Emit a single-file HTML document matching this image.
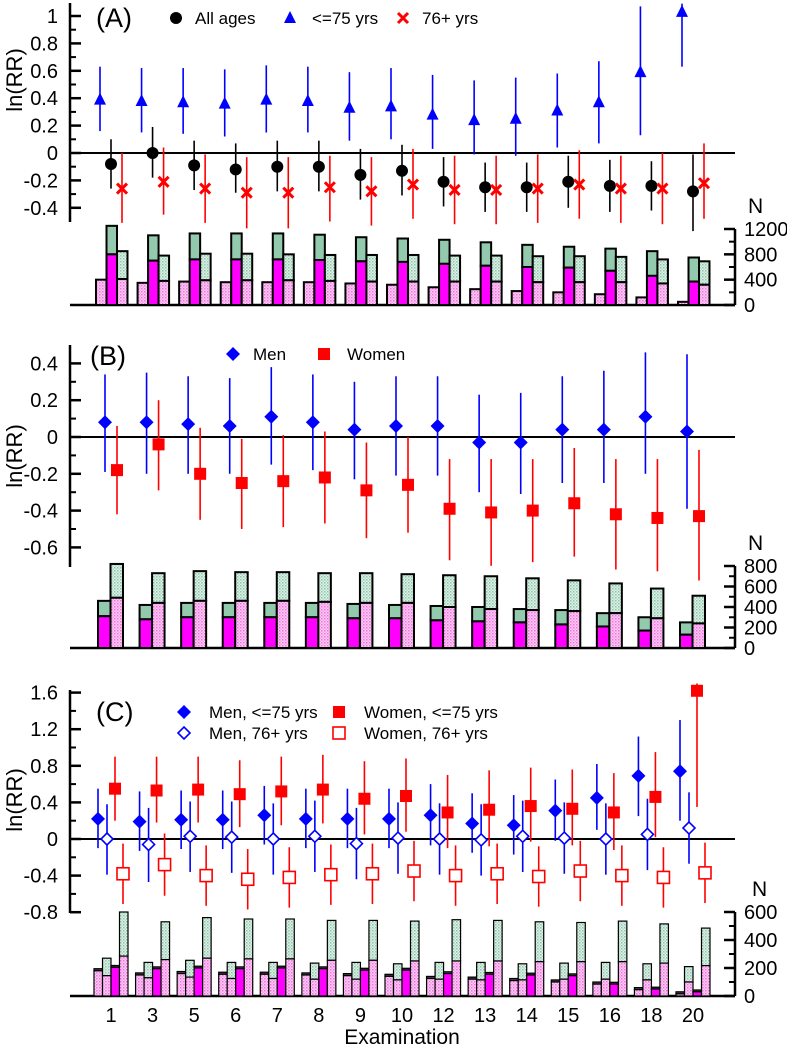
<!DOCTYPE html>
<html><head><meta charset="utf-8">
<style>
html,body{margin:0;padding:0;background:#fff;}
svg{display:block;font-family:"Liberation Sans",Arial,sans-serif;}
</style></head>
<body>
<svg id="chart" width="787" height="1050" viewBox="0 0 787 1050">
<defs>
<pattern id="pinkHatch" width="3" height="3" patternUnits="userSpaceOnUse"><rect width="3" height="3" fill="#fbd0f4"/><rect width="1.5" height="1.5" fill="#f070e0"/><rect x="1.5" y="1.5" width="1.5" height="1.5" fill="#f8a0ec"/></pattern>
<pattern id="greenHatch" width="3" height="3" patternUnits="userSpaceOnUse"><rect width="3" height="3" fill="#e2f2ea"/><rect width="1.5" height="1.5" fill="#8cc4a8"/><rect x="1.5" y="1.5" width="1.5" height="1.5" fill="#b4dcc8"/></pattern>
</defs>
</svg>
<script>
// shared categories
const exams = ["1","3","5","6","7","8","9","10","12","13","14","15","16","18","20"];
// Panel A
const aAll = [-0.08,0.00,-0.09,-0.12,-0.10,-0.10,-0.16,-0.13,-0.21,-0.25,-0.25,-0.21,-0.24,-0.24,-0.28];
const aAllLo = [-0.26,-0.18,-0.27,-0.29,-0.28,-0.28,-0.34,-0.31,-0.39,-0.43,-0.43,-0.40,-0.43,-0.42,-0.57];
const aAllHi = [0.10,0.19,0.09,0.07,0.09,0.09,0.03,0.06,-0.03,-0.07,-0.07,-0.02,-0.05,-0.06,-0.01];
const aYoung = [0.39,0.38,0.37,0.36,0.39,0.38,0.33,0.34,0.28,0.24,0.25,0.31,0.37,0.59,1.03];
const aYoungLo = [0.16,0.15,0.14,0.12,0.15,0.15,0.09,0.10,0.03,-0.01,-0.02,0.04,0.07,0.13,0.63];
const aYoungHi = [0.63,0.62,0.62,0.61,0.64,0.63,0.59,0.62,0.57,0.53,0.55,0.58,0.67,1.07,1.09];
const aOld = [-0.26,-0.21,-0.26,-0.29,-0.29,-0.25,-0.28,-0.23,-0.27,-0.27,-0.26,-0.23,-0.26,-0.26,-0.22];
const aOldLo = [-0.51,-0.45,-0.51,-0.55,-0.55,-0.50,-0.53,-0.48,-0.52,-0.52,-0.51,-0.48,-0.51,-0.52,-0.48];
const aOldHi = [0.00,0.04,-0.01,-0.03,-0.03,-0.02,-0.03,0.03,-0.02,-0.02,-0.01,0.02,-0.02,0.00,0.07];
const aN1 = [400,350,370,360,360,360,340,320,280,250,220,200,170,120,50];
const aN2 = [800,700,720,720,720,710,690,680,650,620,600,590,540,460,370];
const aN2tot = [1250,1100,1130,1130,1130,1110,1070,1050,1030,990,950,920,890,850,750];
const aN3 = [410,380,390,390,390,380,370,370,370,370,360,360,360,340,320];
const aN3tot = [850,780,810,810,800,790,790,790,780,780,770,770,760,720,690];
// Panel B
const bMen = [0.08,0.08,0.07,0.06,0.11,0.08,0.04,0.06,0.06,-0.03,-0.03,0.04,0.04,0.11,0.03];
const bMenLo = [-0.19,-0.20,-0.20,-0.20,-0.15,-0.18,-0.23,-0.21,-0.21,-0.30,-0.31,-0.25,-0.25,-0.20,-0.39];
const bMenHi = [0.34,0.35,0.33,0.32,0.38,0.34,0.30,0.33,0.33,0.23,0.24,0.33,0.36,0.46,0.45];
const bWomen = [-0.18,-0.04,-0.20,-0.25,-0.24,-0.22,-0.29,-0.26,-0.39,-0.41,-0.40,-0.36,-0.42,-0.44,-0.43];
const bWomenLo = [-0.42,-0.29,-0.45,-0.50,-0.49,-0.47,-0.55,-0.52,-0.67,-0.70,-0.68,-0.65,-0.72,-0.73,-0.78];
const bWomenHi = [0.06,0.20,0.05,-0.01,0.01,0.03,-0.03,0.00,-0.12,-0.12,-0.12,-0.06,-0.12,-0.12,-0.07];
const bN1 = [310,280,300,300,300,300,290,290,270,260,250,230,210,170,130];
const bN1tot = [460,420,440,440,440,440,430,420,410,400,380,370,340,300,250];
const bN2 = [490,440,460,460,460,450,440,440,400,380,370,360,340,290,240];
const bN2tot = [820,730,750,740,740,730,730,720,710,700,680,660,630,580,510];
// Panel C
const cMenY = [0.22,0.19,0.21,0.21,0.26,0.22,0.22,0.22,0.26,0.17,0.15,0.31,0.45,0.69,0.74];
const cMenYLo = [-0.10,-0.13,-0.11,-0.11,-0.06,-0.10,-0.10,-0.10,-0.07,-0.15,-0.17,-0.02,0.10,0.25,0.20];
const cMenYHi = [0.55,0.52,0.53,0.53,0.58,0.55,0.55,0.55,0.60,0.50,0.48,0.65,0.82,1.12,1.30];
const cMenO = [0.00,-0.06,0.03,0.02,0.00,0.03,-0.05,0.01,0.00,-0.01,0.03,0.01,0.00,0.05,0.12];
const cMenOLo = [-0.39,-0.47,-0.36,-0.37,-0.39,-0.36,-0.44,-0.38,-0.39,-0.40,-0.36,-0.38,-0.39,-0.34,-0.27];
const cMenOHi = [0.38,0.34,0.41,0.41,0.39,0.42,0.34,0.40,0.39,0.38,0.42,0.40,0.39,0.44,0.51];
const cWomY = [0.55,0.53,0.54,0.49,0.52,0.54,0.44,0.47,0.29,0.32,0.36,0.33,0.29,0.46,1.62];
const cWomYLo = [0.20,0.18,0.18,0.13,0.15,0.17,0.05,0.08,-0.10,-0.08,-0.03,-0.07,-0.12,0.02,0.35];
const cWomYHi = [0.90,0.90,0.90,0.86,0.90,0.92,0.85,0.88,0.70,0.75,0.78,0.76,0.72,0.95,1.70];
const cWomO = [-0.38,-0.28,-0.40,-0.44,-0.42,-0.39,-0.38,-0.35,-0.40,-0.38,-0.41,-0.35,-0.40,-0.42,-0.37];
const cWomOLo = [-0.71,-0.62,-0.73,-0.77,-0.75,-0.72,-0.71,-0.68,-0.73,-0.71,-0.74,-0.68,-0.73,-0.75,-0.70];
const cWomOHi = [-0.05,0.06,-0.07,-0.11,-0.09,-0.06,-0.05,-0.02,-0.07,-0.05,-0.08,-0.02,-0.07,-0.09,-0.04];
const cN1 = [180,150,160,155,155,150,145,140,125,120,110,100,85,45,15];
const cN1tot = [195,165,175,170,170,165,160,155,140,135,125,115,100,60,30];
const cN2 = [145,130,135,125,125,120,120,115,120,115,115,120,120,115,100];
const cN2tot = [270,240,255,240,240,235,240,230,240,240,230,235,240,230,210];
const cN3 = [205,195,200,195,200,195,185,185,160,155,150,145,85,50,30];
const cN3tot = [218,208,213,208,213,208,198,198,173,168,163,158,98,63,43];
const cN4 = [285,260,270,265,265,255,255,250,250,250,245,245,245,235,217];
const cN4tot = [600,530,560,550,550,540,540,535,545,540,530,525,535,515,485];
// tick labels
const aYTicks = [1,0.8,0.6,0.4,0.2,0,-0.2,-0.4];
const aNTicks = [1200,800,400,0];
const bYTicks = [0.4,0.2,0,-0.2,-0.4,-0.6];
const bNTicks = [800,600,400,200,0];
const cYTicks = [1.6,1.2,0.8,0.4,0,-0.4,-0.8];
const cNTicks = [600,400,200,0];

const svg = document.getElementById('chart');
const NS = 'http://www.w3.org/2000/svg';
function mk(tag, attrs, parent){const e=document.createElementNS(NS,tag);for(const k in attrs)e.setAttribute(k,attrs[k]);(parent||svg).appendChild(e);return e;}
const AX_L = 70, AX_R = 735;
function xC(i){return 111 + i*(693-111)/14;}
function fmt(v){return (Math.round(v*10)/10).toString();}

function panel(cfg){
  const g = mk('g',{});
  
  
  const y = v => cfg.zero - v*cfg.unit;
  const yn = v => cfg.base - v*cfg.nscale;
  const la = mk('line',{x1:AX_L,x2:AX_L,y1:cfg.top,y2:cfg.bot,stroke:'#000','stroke-width':2.5},g);
  
  
  cfg.yTicks.forEach(t=>{
    mk('line',{x1:AX_L,x2:AX_L+11,y1:y(t),y2:y(t),stroke:'#000','stroke-width':2.5},g);
    const tx = mk('text',{x:AX_L-12,y:y(t)+7,'text-anchor':'end','font-size':20},g);
    tx.textContent = fmt(t);
    
    
  });
  for(let i=0;i<cfg.yTicks.length-1;i++){
    const m=(cfg.yTicks[i]+cfg.yTicks[i+1])/2;
    mk('line',{x1:AX_L,x2:AX_L+6,y1:y(m),y2:y(m),stroke:'#000','stroke-width':2},g);
  }
  mk('line',{x1:AX_L,x2:AX_R,y1:y(0),y2:y(0),stroke:'#000','stroke-width':2},g);
  const yl = mk('text',{x:0,y:0,'font-size':22,'text-anchor':'middle',transform:`translate(22,${cfg.ylabY}) rotate(-90)`},g);
  yl.textContent='ln(RR)';
  
  
  const pl = mk('text',{x:cfg.letterX,y:cfg.letterY,'font-size':27},g);
  pl.textContent = cfg.letter;
  
  
  mk('line',{x1:AX_L,x2:AX_R,y1:cfg.base,y2:cfg.base,stroke:'#000','stroke-width':2.5},g);
  const nTop = yn(cfg.nTicks[0]);
  const ra = mk('line',{x1:AX_R,x2:AX_R,y1:nTop,y2:cfg.base,stroke:'#000','stroke-width':2.5},g);
  
  
  cfg.nTicks.forEach(t=>{
    mk('line',{x1:AX_R-11,x2:AX_R,y1:yn(t),y2:yn(t),stroke:'#000','stroke-width':2.5},g);
    const tx = mk('text',{x:AX_R+9,y:yn(t)+7,'font-size':20},g);
    tx.textContent = t;
    
    
  });
  for(let i=0;i<cfg.nTicks.length-1;i++){
    const m=(cfg.nTicks[i]+cfg.nTicks[i+1])/2;
    mk('line',{x1:AX_R-6,x2:AX_R,y1:yn(m),y2:yn(m),stroke:'#000','stroke-width':2},g);
  }
  const nl = mk('text',{x:cfg.nLabX,y:nTop-16,'font-size':21},g);
  nl.textContent='N';
  
  
  exams.forEach((_,i)=>{
    cfg.bars.forEach((b,k)=>{
      const x0 = xC(i)+cfg.barStart+k*cfg.barW;
      const h1 = b.v1[i], h2 = b.v2 ? b.v2[i] : h1;
      if(h2>h1){
        const r2 = mk('rect',{x:x0,y:yn(h2),width:cfg.barW,height:yn(h1)-yn(h2),fill:b.top,stroke:'#000','stroke-width':cfg.bsw},g);
        
        
      }
      const r1 = mk('rect',{x:x0,y:yn(h1),width:cfg.barW,height:cfg.base-yn(h1),fill:b.bot,stroke:'#000','stroke-width':cfg.bsw},g);
      
      
    });
  });
  cfg.series.forEach(s=>{
    exams.forEach((_,i)=>{
      const x = xC(i)+s.dx;
      mk('line',{x1:x,x2:x,y1:y(s.lo[i]),y2:y(s.hi[i]),stroke:s.color,'stroke-width':1.6},g);
      const p = marker(s.marker, x, y(s.v[i]), s.color, g);
      
      
    });
  });
  cfg.legend.forEach(l=>{
    const p = marker(l.marker, l.x, l.y, l.color, g);
    
    
    const t = mk('text',{x:l.x+l.tx,y:l.y+6,'font-size':17},g);
    t.textContent = l.label;
    
    
  });
}
function marker(type,x,y,c,g){
  if(type==='circle') return mk('circle',{cx:x,cy:y,r:6,fill:c},g);
  if(type==='tri') return mk('polygon',{points:`${x},${y-7} ${x-6},${y+5} ${x+6},${y+5}`,fill:c},g);
  if(type==='x'){const gg=mk('g',{},g);mk('path',{d:`M${x-5},${y-5}L${x+5},${y+5}M${x+5},${y-5}L${x-5},${y+5}`,stroke:c,'stroke-width':3},gg);return gg;}
  if(type==='dia') return mk('polygon',{points:`${x},${y-7} ${x+7},${y} ${x},${y+7} ${x-7},${y}`,fill:c},g);
  if(type==='odia') return mk('polygon',{points:`${x},${y-6} ${x+6},${y} ${x},${y+6} ${x-6},${y}`,fill:'#fff',stroke:c,'stroke-width':1.6},g);
  if(type==='sq') return mk('rect',{x:x-6,y:y-6,width:12,height:12,fill:c},g);
  if(type==='osq') return mk('rect',{x:x-6,y:y-6,width:12,height:12,fill:'#fff',stroke:c,'stroke-width':1.6},g);
}
const PINK='url(#pinkHatch)', GH='url(#greenHatch)', MAG='#ff00ff', GS='#93c9ad', DK='#444';

panel({name:'panel-a',letter:'(A)',letterX:96,letterY:27,top:3,bot:222,zero:153,unit:137,ylabY:80,
  yTicks:aYTicks,nTicks:aNTicks,base:305,nscale:76/1200,nLabX:748,barStart:-15,barW:10.5,bsw:2,
  bars:[{v1:aN1,bot:PINK},{v1:aN2,v2:aN2tot,bot:MAG,top:GS},{v1:aN3,v2:aN3tot,bot:PINK,top:GH}],
  series:[{v:aYoung,lo:aYoungLo,hi:aYoungHi,dx:-11,color:'#0000ff',marker:'tri'},
          {v:aAll,lo:aAllLo,hi:aAllHi,dx:0,color:'#000',marker:'circle'},
          {v:aOld,lo:aOldLo,hi:aOldHi,dx:11,color:'#ff0000',marker:'x'}],
  legend:[{marker:'circle',x:176,y:18,color:'#000',label:'All ages',tx:19},
          {marker:'tri',x:290,y:18,color:'#0000ff',label:'<=75 yrs',tx:22},
          {marker:'x',x:403,y:18,color:'#ff0000',label:'76+ yrs',tx:19}]});

panel({name:'panel-b',letter:'(B)',letterX:90,letterY:365,top:345,bot:567,zero:437,unit:184,ylabY:456,
  yTicks:bYTicks,nTicks:bNTicks,base:648,nscale:82/800,nLabX:748,barStart:-13,barW:12.5,bsw:2,
  bars:[{v1:bN1,v2:bN1tot,bot:MAG,top:GS},{v1:bN2,v2:bN2tot,bot:PINK,top:GH}],
  series:[{v:bMen,lo:bMenLo,hi:bMenHi,dx:-6,color:'#0000ff',marker:'dia'},
          {v:bWomen,lo:bWomenLo,hi:bWomenHi,dx:6,color:'#ff0000',marker:'sq'}],
  legend:[{marker:'dia',x:233,y:354,color:'#0000ff',label:'Men',tx:20},
          {marker:'sq',x:324,y:354,color:'#ff0000',label:'Women',tx:23}]});

panel({name:'panel-c',letter:'(C)',letterX:96,letterY:721,top:690,bot:913,zero:839,unit:91.5,ylabY:800,
  yTicks:cYTicks,nTicks:cNTicks,base:996,nscale:84/600,nLabX:752,barStart:-17,barW:8.5,bsw:1.2,
  bars:[{v1:cN1,v2:cN1tot,bot:PINK,top:DK},{v1:cN2,v2:cN2tot,bot:PINK,top:GH},
        {v1:cN3,v2:cN3tot,bot:MAG,top:DK},{v1:cN4,v2:cN4tot,bot:PINK,top:GH}],
  series:[{v:cMenY,lo:cMenYLo,hi:cMenYHi,dx:-13,color:'#0000ff',marker:'dia'},
          {v:cMenO,lo:cMenOLo,hi:cMenOHi,dx:-4,color:'#0000ff',marker:'odia'},
          {v:cWomY,lo:cWomYLo,hi:cWomYHi,dx:4,color:'#ff0000',marker:'sq'},
          {v:cWomO,lo:cWomOLo,hi:cWomOHi,dx:12,color:'#ff0000',marker:'osq'}],
  legend:[{marker:'dia',x:184,y:712,color:'#0000ff',label:'Men, <=75 yrs',tx:25},
          {marker:'odia',x:184,y:733,color:'#0000ff',label:'Men, 76+ yrs',tx:25},
          {marker:'sq',x:339,y:712,color:'#ff0000',label:'Women, <=75 yrs',tx:25},
          {marker:'osq',x:339,y:733,color:'#ff0000',label:'Women, 76+ yrs',tx:25}]});

exams.forEach((e,i)=>{
  const t = mk('text',{x:xC(i),y:1022,'text-anchor':'middle','font-size':20});
  t.textContent = e;
  
  
});
const xt = mk('text',{x:402,y:1044,'text-anchor':'middle','font-size':21});
xt.textContent='Examination';


</script>
</body></html>
